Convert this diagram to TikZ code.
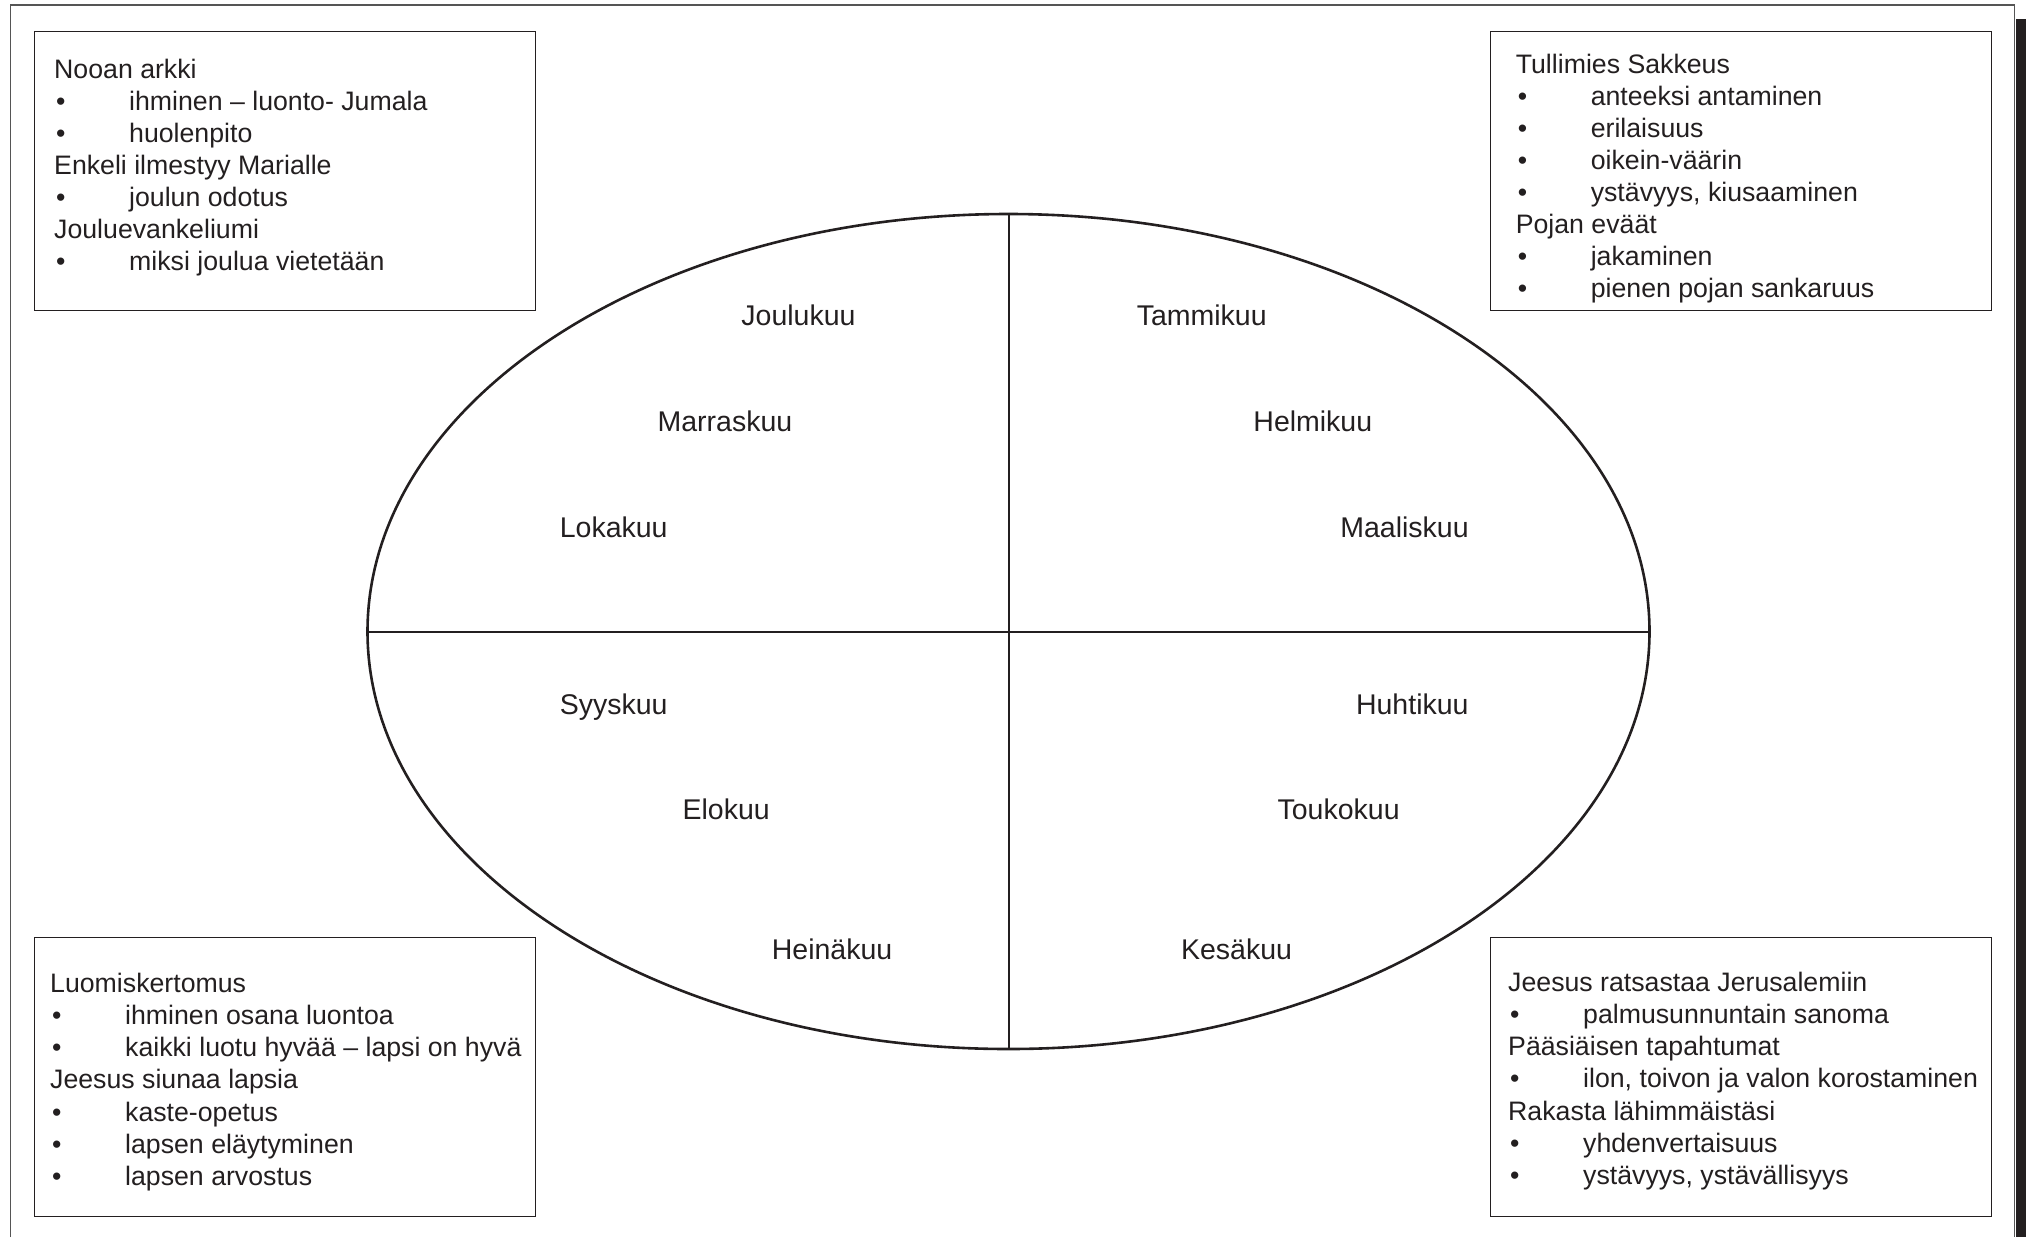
\documentclass[tikz,border=0pt]{standalone}
\usepackage{fontspec}
\setmainfont{Liberation Sans}
\usetikzlibrary{shapes.geometric}
\definecolor{ink}{HTML}{231F20}
\definecolor{frame}{HTML}{555555}
\newcommand\bul{\makebox[75pt][l]{\hspace{2pt}•}}
\tikzset{
  box/.style={draw=ink, line width=1.4pt, anchor=north west, inner sep=0pt,
    minimum width=501pt, minimum height=279pt},
  boxtext/.style={anchor=north west, align=left, inner sep=0pt,
    font=\fontsize{26.7}{32.1}\selectfont, text=ink},
  month/.style={anchor=base, inner sep=0pt, font=\fontsize{28.5}{34}\selectfont, text=ink},
  cross/.style={draw=ink, line width=2pt},
}
\begin{document}
\begin{tikzpicture}[x=1pt,y=-1pt]
\useasboundingbox (0,0) rectangle (2026,1237);
% outer frame
\draw[frame, line width=1.5pt] (10.5,1237) -- (10.5,5) -- (2014.5,5) -- (2014.5,1237);
\fill[ink] (2016,19) rectangle (2026,1237);
% boxes
\node[box] (tl) at (33.6,31) {};
\node[box] (tr) at (1490,31) {};
\node[box] (bl) at (33.6,937) {};
\node[box] (br) at (1490,937) {};
\node[boxtext] (tltext) at (54,55.5) {\strut Nooan arkki\\
\bul ihminen – luonto- Jumala\\
\bul huolenpito\\
Enkeli ilmestyy Marialle\\
\bul joulun odotus\\
Jouluevankeliumi\\
\bul miksi joulua vietetään};
\node[boxtext] (trtext) at (1515.6,50.5) {\strut Tullimies Sakkeus\\
\bul anteeksi antaminen\\
\bul erilaisuus\\
\bul oikein-väärin\\
\bul ystävyys, kiusaaminen\\
Pojan eväät\\
\bul jakaminen\\
\bul pienen pojan sankaruus};
\node[boxtext] (bltext) at (50,970) {\strut Luomiskertomus\\
\bul ihminen osana luontoa\\
\bul kaikki luotu hyvää – lapsi on hyvä\\
Jeesus siunaa lapsia\\
\bul kaste-opetus\\
\bul lapsen eläytyminen\\
\bul lapsen arvostus};
\node[boxtext] (brtext) at (1508,969) {\strut Jeesus ratsastaa Jerusalemiin\\
\bul palmusunnuntain sanoma\\
Pääsiäisen tapahtumat\\
\bul ilon, toivon ja valon korostaminen\\
Rakasta lähimmäistäsi\\
\bul yhdenvertaisuus\\
\bul ystävyys, ystävällisyys};
% ellipse
\node[ellipse, draw=ink, line width=2.6pt, minimum width=1282pt, minimum height=835pt, inner sep=0pt] (ell) at (1008.5,631.5) {};
\draw[cross] (ell.north) -- (ell.south);
\draw[cross] (ell.west) -- (ell.east);
% months
\node[month] (m12) at (798.5,325) {Joulukuu};
\node[month] (m1) at (1201.7,325) {Tammikuu};
\node[month] (m11) at (724.9,431) {Marraskuu};
\node[month] (m2) at (1312.8,431) {Helmikuu};
\node[month] (m10) at (613.7,537) {Lokakuu};
\node[month] (m3) at (1404.5,537) {Maaliskuu};
\node[month] (m9) at (613.7,714) {Syyskuu};
\node[month] (m4) at (1412.3,714) {Huhtikuu};
\node[month] (m8) at (726.2,819) {Elokuu};
\node[month] (m5) at (1338.6,819) {Toukokuu};
\node[month] (m7) at (832.1,959.5) {Heinäkuu};
\node[month] (m6) at (1236.5,959.5) {Kesäkuu};
\end{tikzpicture}
\end{document}
